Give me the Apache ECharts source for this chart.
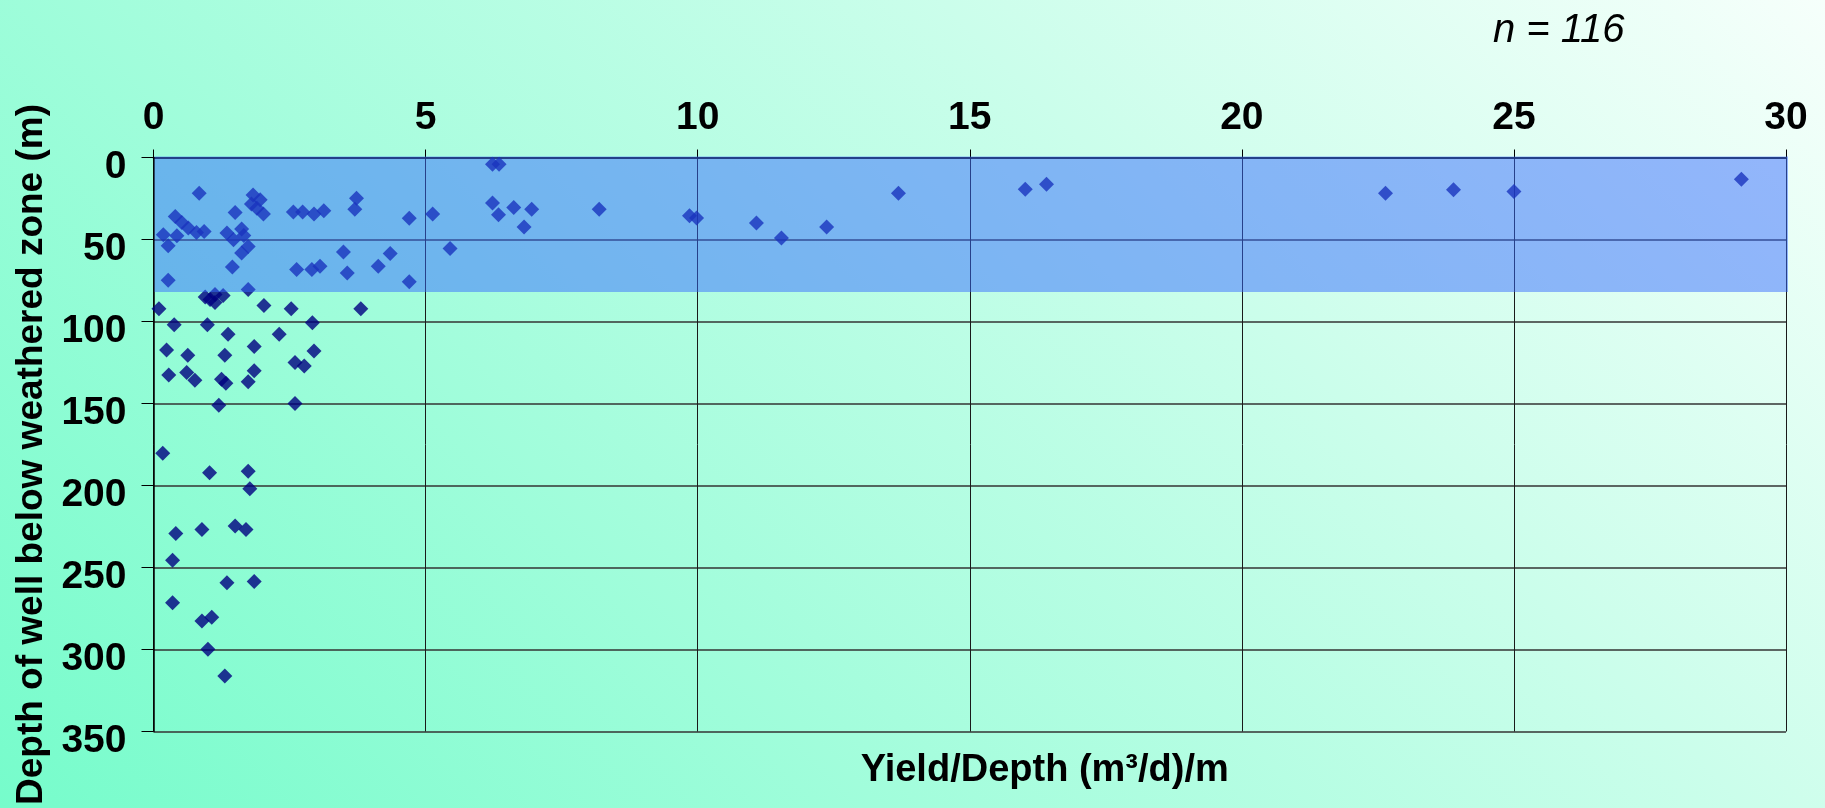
<!DOCTYPE html>
<html>
<head>
<meta charset="utf-8">
<script src="https://cdn.jsdelivr.net/npm/echarts@6/dist/echarts.min.js"></script>
<style>
  html, body { margin: 0; padding: 0; }
  #chart { width: 1825px; height: 808px; }
</style>
</head>
<body>
<div id="chart"></div>
<script>
// Yield per metre of depth, (m³/d)/m
const yieldPerDepth = [
  0.84, 0.40, 0.52, 0.64, 0.79, 0.93, 0.18, 0.43, 0.27, 0.27,
  1.50, 1.83, 1.96, 1.80, 1.90, 2.02, 1.35, 1.47, 1.62, 1.66,
  1.74, 1.62, 1.45, 1.74, 2.57, 2.74, 2.95, 3.13, 2.63, 2.91,
  3.06, 3.49, 3.56, 3.73, 3.70, 4.13, 4.35, 4.70, 4.70, 5.13,
  5.45, 6.23, 6.35, 6.23, 6.34, 6.62, 6.95, 6.81, 8.19, 9.85,
  9.98, 11.08, 11.54, 12.37, 13.69, 16.02, 16.41, 22.64, 23.89, 25.0,
  29.18,
  0.10, 0.95, 1.13, 1.28, 1.13, 1.04, 2.03, 2.53, 3.81, 0.38,
  0.99, 2.92, 1.37, 2.31, 0.24, 0.63, 1.31, 1.85, 2.95, 2.60,
  2.77, 0.28, 0.61, 0.76, 1.25, 1.33, 1.85, 1.74, 1.20, 2.60,
  0.17, 1.03, 1.74, 1.77, 0.41, 0.89, 1.50, 1.70, 0.35, 1.35,
  1.85, 0.35, 0.89, 1.07, 1.00, 1.31
];

// Depth of each well below the weathered zone, m
const wellDepth = [
  21.8, 36.0, 39.6, 43.0, 45.7, 45.1, 47.1, 47.7, 53.8, 74.8,
  33.5, 22.8, 25.8, 28.3, 30.9, 34.5, 46.1, 50.1, 43.6, 47.6,
  54.2, 58.2, 66.7, 80.5, 33.3, 33.3, 34.5, 32.5, 68.3, 68.3,
  66.3, 57.6, 70.4, 24.8, 31.5, 66.3, 58.6, 37.0, 75.8, 34.5,
  55.5, 4.1, 4.1, 27.8, 34.9, 30.5, 31.5, 42.4, 31.5, 35.5,
  36.9, 40.0, 49.1, 42.4, 21.8, 19.3, 16.3, 21.8, 19.7, 20.8,
  13.2,
  92.2, 85.0, 83.5, 84.1, 88.4, 86.6, 90.2, 92.2, 92.2, 102.0,
  102.0, 100.7, 107.8, 107.8, 117.4, 120.6, 120.6, 115.3, 118.0, 125.0,
  127.1, 132.6, 131.1, 135.8, 135.2, 137.6, 130.1, 136.8, 151.0, 150.0,
  180.3, 192.3, 191.3, 202.0, 229.3, 226.9, 224.7, 226.9, 245.6, 259.3,
  258.5, 271.5, 282.6, 280.4, 299.8, 316.2
];

// Shaded weathered-zone band: yield range and depth range
const bandYield = [0, 30];
const bandDepth = [0, 82];

// Axis ranges and steps
const xRange = [0, 30], xStep = 5;
const yRange = [0, 350], yStep = 50;

const sampleCount = 116;

const points = yieldPerDepth.map((x, i) => [x, wellDepth[i]]);

const FONT = '"Liberation Sans", Arial, sans-serif';

const chart = echarts.init(document.getElementById('chart'), null, { renderer: 'canvas' });

chart.setOption({
  animation: false,
  backgroundColor: {
    type: 'linear', global: true,
    x: 0, y: 808, x2: 1316, y2: -508,
    colorStops: [
      { offset: 0, color: '#76fccb' },
      { offset: 1, color: '#f6fffb' }
    ]
  },
  title: {
    text: 'n = ' + sampleCount,
    left: 1488, top: 6,
    textStyle: { fontFamily: FONT, fontSize: 40, fontStyle: 'italic', fontWeight: 'normal', color: '#000' }
  },
  grid: { left: 153.5, right: 39, top: 157.5, bottom: 74.5, containLabel: false },
  xAxis: [
    {
      type: 'value', position: 'top',
      min: xRange[0], max: xRange[1], interval: xStep,
      axisLine: { show: true, lineStyle: { color: '#000', width: 1.5 } },
      axisTick: { show: true, length: 8, lineStyle: { color: '#000', width: 1 } },
      axisLabel: { margin: 20, fontFamily: FONT, fontSize: 39, fontWeight: 'bold', color: '#000' },
      splitLine: { show: true, lineStyle: { color: '#1a1a1a', width: 1 } }
    },
    {
      type: 'value', position: 'bottom',
      min: xRange[0], max: xRange[1],
      axisLine: { show: false }, axisTick: { show: false }, axisLabel: { show: false },
      splitLine: { show: false },
      name: 'Yield/Depth (m³/d)/m',
      nameLocation: 'middle', nameGap: 20,
      nameTextStyle: { fontFamily: FONT, fontSize: 38, fontWeight: 'bold', color: '#000', padding: [0, 0, 0, 150] }
    }
  ],
  yAxis: {
    type: 'value', inverse: true,
    min: yRange[0], max: yRange[1], interval: yStep,
    axisLine: { show: true, lineStyle: { color: '#000', width: 1.5 } },
    axisTick: { show: true, length: 12, lineStyle: { color: '#000', width: 1 } },
    axisLabel: {
      margin: 27, fontFamily: FONT, fontSize: 39, fontWeight: 'bold', color: '#000',
      verticalAlign: 'top', lineHeight: 20
    },
    splitLine: { show: true, lineStyle: { color: '#333', width: 1.5 } },
    name: 'Depth of well below weathered zone (m)',
    nameLocation: 'middle', nameGap: 100,
    nameTextStyle: { fontFamily: FONT, fontSize: 37, fontWeight: 'bold', color: '#000', padding: [0, 20, 0, 0] }
  },
  series: [
    {
      name: 'Wells',
      type: 'scatter',
      xAxisIndex: 0,
      data: points,
      symbol: 'diamond',
      symbolSize: 15,
      itemStyle: { color: '#000080' },
      z: 2
    },
    {
      // translucent band over the weathered zone, drawn above the markers
      name: 'Weathered zone',
      type: 'custom',
      xAxisIndex: 0,
      z: 3,
      silent: true,
      data: [[bandYield[0], bandYield[1], bandDepth[0], bandDepth[1]]],
      renderItem: function (params, api) {
        const p0 = api.coord([api.value(0), api.value(2)]);
        const p1 = api.coord([api.value(1), api.value(3)]);
        return {
          type: 'rect',
          shape: {
            x: Math.min(p0[0], p1[0]) + 1,
            y: Math.min(p0[1], p1[1]) - 1,
            width: Math.abs(p1[0] - p0[0]) + 1,
            height: Math.abs(p1[1] - p0[1]) + 1
          },
          style: { fill: 'rgba(53,106,255,0.49)' }
        };
      }
    }
  ]
});
</script>
</body>
</html>
